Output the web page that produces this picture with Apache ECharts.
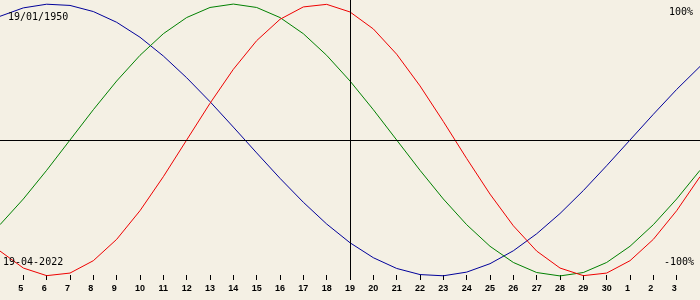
<!DOCTYPE html>
<html>
<head>
<meta charset="utf-8">
<script src="https://cdn.jsdelivr.net/npm/echarts@6/dist/echarts.min.js"></script>
<style>
html,body{margin:0;padding:0;background:#f4f0e4;}
#c{width:700px;height:300px;}
</style>
</head>
<body>
<div id="c"></div>
<script>
// Day labels (tick labels), April 5 .. May 3
const dayLabels = ['5','6','7','8','9','10','11','12','13','14','15','16','17','18','19','20','21','22','23','24','25','26','27','28','29','30','1','2','3'];
// Values in percent, from April 4 (one day before the first label) to May 4
const intellectual = [91.0, 97.2, 99.9, 99.0, 94.5, 86.6, 75.6, 61.8, 45.8, 28.2, 9.5, -9.5, -28.2, -45.8, -61.8, -75.6, -86.6, -94.5, -99.0, -99.9, -97.2, -91.0, -81.5, -69.0, -54.1, -37.2, -18.9, 0.0, 18.9, 37.2, 54.1];
const emotional = [-62.3, -43.4, -22.3, 0.0, 22.3, 43.4, 62.3, 78.2, 90.1, 97.5, 100.0, 97.5, 90.1, 78.2, 62.3, 43.4, 22.3, 0.0, -22.3, -43.4, -62.3, -78.2, -90.1, -97.5, -100.0, -97.5, -90.1, -78.2, -62.3, -43.4, -22.3];
const physical = [-81.7, -94.2, -99.8, -97.9, -88.8, -73.1, -52.0, -27.0, 0.0, 27.0, 52.0, 73.1, 88.8, 97.9, 99.8, 94.2, 81.7, 63.1, 39.8, 13.6, -13.6, -39.8, -63.1, -81.7, -94.2, -99.8, -97.9, -88.8, -73.1, -52.0, -27.0];
const birthText = '19/01/1950';
const dateText = '19-04-2022';
const topText = '100%';
const bottomText = '-100%';
const todayIndex = 14;

const toPairs = arr => arr.map((v, i) => [i - 1, v]);
const tickValues = dayLabels.map((_, i) => i);

const chart = echarts.init(document.getElementById('c'), null, {renderer: 'canvas'});
const monoFont = {fontFamily: 'DejaVu Sans Mono', fontSize: 10, color: '#000', fontWeight: 'normal'};
chart.setOption({
  backgroundColor: '#f4f0e4',
  animation: false,
  title: [
    {text: birthText, left: 8, top: 12, textStyle: monoFont, padding: 0},
    {text: dateText, left: 3, top: 257, textStyle: monoFont, padding: 0},
    {text: topText, right: 7, top: 7, textStyle: monoFont, padding: 0},
    {text: bottomText, right: 6, top: 257, textStyle: monoFont, padding: 0}
  ],
  grid: {left: 0, right: 0, top: 0, bottom: 20},
  xAxis: {
    type: 'value', min: -1, max: 29,
    axisLine: {show: false, onZero: false},
    splitLine: {show: false},
    axisTick: {show: true, inside: true, length: 5, lineStyle: {color: '#000', width: 1}, customValues: tickValues},
    axisLabel: {
      customValues: tickValues,
      margin: 4,
      formatter: v => {
        const s = dayLabels[Math.round(v)] || '';
        return s.length === 1 ? '{s|' + s + '}' : '{d|' + s + '}';
      },
      rich: {
        s: {fontFamily: 'Liberation Sans', fontSize: 9, fontWeight: 'bold', color: '#000', padding: [0, 5, 0, 0]},
        d: {fontFamily: 'Liberation Sans', fontSize: 9, fontWeight: 'bold', color: '#000'}
      }
    }
  },
  yAxis: {
    type: 'value', min: -103, max: 103, show: false, splitLine: {show: false}
  },
  series: [
    {
      type: 'line', data: toPairs(intellectual), showSymbol: false, symbol: 'none',
      lineStyle: {color: '#00009a', width: 1}, z: 3,
      markLine: {
        silent: true, symbol: 'none', label: {show: false}, animation: false,
        lineStyle: {color: '#000', width: 1, type: 'solid'},
        data: [{yAxis: 0}, {xAxis: todayIndex}]
      }
    },
    {type: 'line', data: toPairs(emotional), showSymbol: false, symbol: 'none', lineStyle: {color: '#008000', width: 1}, z: 3},
    {type: 'line', data: toPairs(physical), showSymbol: false, symbol: 'none', lineStyle: {color: '#ee0000', width: 1}, z: 3}
  ]
});
</script>
</body>
</html>
